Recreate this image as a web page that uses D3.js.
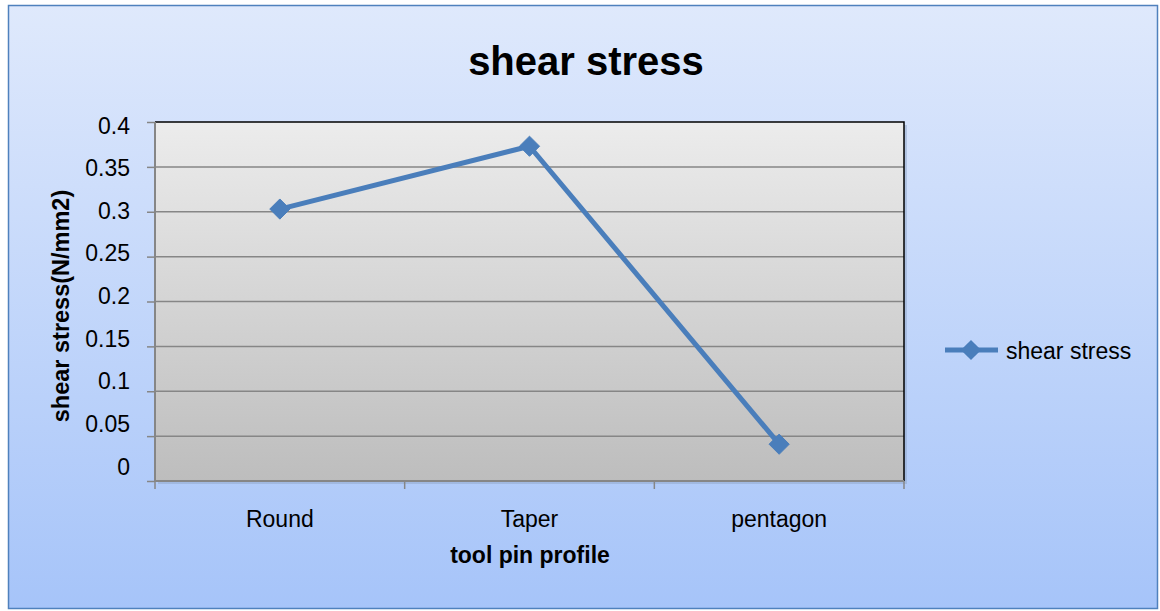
<!DOCTYPE html>
<html><head><meta charset="utf-8">
<script src="https://cdn.jsdelivr.net/npm/d3@7"></script>
<style>body{margin:0;background:#fff;} text{font-family:"Liberation Sans",Arial,sans-serif;}</style>
</head><body><svg id="c" width="1160" height="611"></svg>
<script>
const categories = ["Round","Taper","pentagon"];
const shearStress = [0.303, 0.373, 0.041];
const yTicks = [0,0.05,0.1,0.15,0.2,0.25,0.3,0.35,0.4];
const yTickLabels = ["0","0.05","0.1","0.15","0.2","0.25","0.3","0.35","0.4"];
const seriesName = "shear stress";
const titleText = "shear stress";
const xTitle = "tool pin profile";
const yTitle = "shear stress(N/mm2)";

const svg = d3.select("#c");
const defs = svg.append("defs");
const bg = defs.append("linearGradient").attr("id","bg").attr("x1",0).attr("y1",0).attr("x2",0).attr("y2",1);
bg.append("stop").attr("offset","0%").attr("stop-color","#dfe9fc");
bg.append("stop").attr("offset","100%").attr("stop-color","#a6c4f9");
const pg = defs.append("linearGradient").attr("id","pg").attr("x1",0).attr("y1",0).attr("x2",0).attr("y2",1);
pg.append("stop").attr("offset","0%").attr("stop-color","#ececec");
pg.append("stop").attr("offset","100%").attr("stop-color","#bdbdbd");

svg.append("rect").attr("x",8.5).attr("y",5.5).attr("width",1149).attr("height",603)
  .attr("fill","url(#bg)").attr("stroke","#4f81bd").attr("stroke-width",1.5);

const L=155, R=904, T=122, B=481;
const x = d3.scaleBand().domain(categories).range([L,R]);
const y = d3.scaleLinear().domain([0,0.4]).range([B,T]);
// tick labels in the reference sit on a slightly compressed spacing
const yLab = d3.scaleLinear().domain([0,0.4]).range([466,125]);

// shadow
svg.append("rect").attr("x",L+3).attr("y",T+3).attr("width",R-L).attr("height",B-T).attr("fill","#8fa6c8").attr("opacity",0.5);
svg.append("rect").attr("x",L).attr("y",T).attr("width",R-L).attr("height",B-T).attr("fill","url(#pg)");

// gridlines
svg.append("g").selectAll("line").data(yTicks.slice(1,-1)).join("line")
  .attr("x1",L).attr("x2",R).attr("y1",d=>y(d)).attr("y2",d=>y(d))
  .attr("stroke","#868686").attr("stroke-width",1.5);
// top & right border
svg.append("path").attr("d",`M${L},${T}H${R}V${B}`).attr("fill","none").attr("stroke","#000").attr("stroke-width",1.5);

// y axis
const yAxis = d3.axisLeft(y).tickValues(yTicks).tickFormat((d,i)=>yTickLabels[i]).tickSize(8).tickPadding(17);
const ya = svg.append("g").attr("transform",`translate(${L},0)`).call(yAxis);
ya.select(".domain").attr("stroke","#868686").attr("stroke-width",2).attr("d",`M0,${T}V${B}`);
ya.selectAll(".tick line").attr("stroke","#868686").attr("stroke-width",1.5);
ya.selectAll(".tick text").attr("font-size",23).attr("fill","#000").attr("dy","0.35em")
  .attr("y",d=>yLab(d)-y(d))
  .style("font-family",'"Liberation Sans",sans-serif');

// x axis
const xa = svg.append("g").attr("transform",`translate(0,${B})`)
  .call(d3.axisBottom(x).tickSize(0).tickPadding(0));
xa.select(".domain").attr("stroke","#868686").attr("stroke-width",2).attr("d",`M${L},0H${R}`);
xa.selectAll(".tick text").attr("font-size",23).attr("fill","#000").attr("y",46).attr("dy",0)
  .style("font-family",'"Liberation Sans",sans-serif');
const bounds = [L, ...categories.slice(1).map(c=>x(c)), R];
xa.append("g").selectAll("line").data(bounds).join("line")
  .attr("x1",d=>d).attr("x2",d=>d).attr("y1",0).attr("y2",8).attr("stroke","#868686").attr("stroke-width",1.5);

// line
const line = d3.line().x((d,i)=>x(categories[i])+x.bandwidth()/2).y(d=>y(d));
svg.append("path").datum(shearStress).attr("d",line).attr("fill","none")
  .attr("stroke","#4a7ebb").attr("stroke-width",5).attr("stroke-linejoin","round");
const sym = d3.symbol().type(d3.symbolDiamond2).size(260);
svg.append("g").selectAll("path").data(shearStress).join("path")
  .attr("transform",(d,i)=>`translate(${x(categories[i])+x.bandwidth()/2},${y(d)})`)
  .attr("d",sym).attr("fill","#4a7ebb").attr("stroke","#4a7ebb").attr("stroke-width",1);

// titles
svg.append("text").attr("x",586).attr("y",75).attr("text-anchor","middle")
  .attr("font-size",40).attr("font-weight","bold").text(titleText);
svg.append("text").attr("x",530).attr("y",563).attr("text-anchor","middle")
  .attr("font-size",23).attr("font-weight","bold").text(xTitle);
svg.append("text").attr("transform","translate(69,306) rotate(-90)").attr("text-anchor","middle")
  .attr("font-size",23.5).attr("font-weight","bold").text(yTitle);

// legend
const lg = svg.append("g");
lg.append("line").attr("x1",945).attr("x2",998).attr("y1",350).attr("y2",350).attr("stroke","#4a7ebb").attr("stroke-width",5);
lg.append("path").attr("transform","translate(971,350)").attr("d",sym).attr("fill","#4a7ebb");
lg.append("text").attr("x",1006).attr("y",359).attr("font-size",23).text(seriesName);
</script></body></html>
